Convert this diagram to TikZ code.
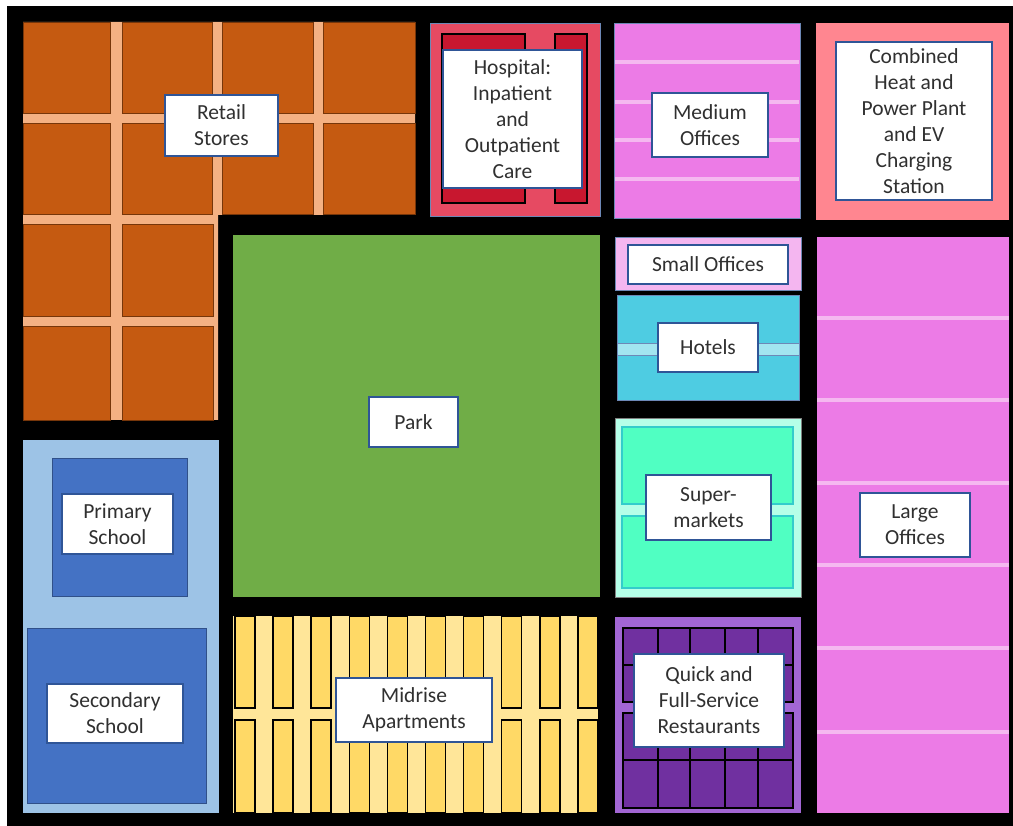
\documentclass[tikz,border=0pt]{standalone}
\usepackage{fontspec}
\setmainfont{Carlito}
\usepackage{tikz}

\definecolor{retail}{HTML}{C55A11}
\definecolor{retailgap}{HTML}{F4B183}
\definecolor{parkgreen}{HTML}{70AD47}
\definecolor{hosp}{HTML}{E64A62}
\definecolor{hospdark}{HTML}{C8172F}
\definecolor{office}{HTML}{EC7BE6}
\definecolor{officegap}{HTML}{F5B8F0}
\definecolor{smalloffice}{HTML}{F4B6F0}
\definecolor{chp}{HTML}{FF8690}
\definecolor{hotel}{HTML}{4ECCE2}
\definecolor{hotelgap}{HTML}{A2E5F0}
\definecolor{mintlight}{HTML}{B5FFE8}
\definecolor{mint}{HTML}{50FFC2}
\definecolor{mintedge}{HTML}{33CCCC}
\definecolor{purplelight}{HTML}{A266D4}
\definecolor{purpledark}{HTML}{7030A0}
\definecolor{schoollight}{HTML}{9DC3E6}
\definecolor{schooldark}{HTML}{4472C4}
\definecolor{aptlight}{HTML}{FFE699}
\definecolor{aptdark}{HTML}{FFD966}
\definecolor{edgeblue}{HTML}{2F5597}
\definecolor{labeltext}{HTML}{303030}

\begin{document}
\begin{tikzpicture}[x=1pt,y=-1pt,
  lbl/.style={draw=edgeblue,line width=2pt,fill=white,inner sep=0pt,align=center,
    text=labeltext,font=\fontsize{21.5}{26}\selectfont},
  block/.style={draw=edgeblue!70,line width=0.8pt},
  tile/.style={fill=retail,draw=retail!60!black,line width=0.8pt},
  cell/.style={draw=black,line width=1.5pt}]
\useasboundingbox (0,0) rectangle (1013,826);
\fill[white] (0,0) rectangle (1013,826);
\fill[black] (7,6) rectangle (1013,826);

\fill[retailgap] (23,22) -- (415,22) -- (415,215) -- (218,215) -- (218,420) -- (23,420) -- cycle;
\foreach \xa/\xb in {23/110,122/212,222/313,323/415}
  \foreach \ya/\yb in {22/113,123/214}
    \draw[tile] (\xa,\ya) rectangle (\xb,\yb);
\foreach \xa/\xb in {23/110,122/213}
  \foreach \ya/\yb in {224/316,326/420}
    \draw[tile] (\xa,\ya) rectangle (\xb,\yb);

\fill[parkgreen] (233,235) rectangle (600,597);

\draw[block,fill=hosp] (430,23) rectangle (600,216);
\draw[cell,fill=hospdark] (442,34) rectangle (525,203);
\draw[cell,fill=hospdark] (555,34) rectangle (587,203);

\draw[block,fill=office] (614,23) rectangle (800,218);
\foreach \y in {62,102,140,179}
  \draw[officegap,line width=4pt] (615,\y) -- (799,\y);

\fill[chp] (816,23) rectangle (1009,220);

\draw[block,fill=smalloffice] (615,237) rectangle (801,290);
\draw[block,fill=hotel] (617,295) rectangle (799,400);
\draw[block,fill=hotelgap] (617,343) rectangle (799,355);

\fill[office] (817,237) rectangle (1009,813);
\foreach \y in {318,400,483,565,648,732}
  \draw[officegap,line width=4pt] (817,\y) -- (1009,\y);

\draw[draw=gray,line width=0.8pt,fill=mintlight] (615,418) rectangle (801,597);
\draw[mintedge,line width=1.5pt,fill=mint] (622,427) rectangle (793,504);
\draw[mintedge,line width=1.5pt,fill=mint] (622,516) rectangle (793,588);

\fill[purplelight] (615,617) rectangle (801,813);
\foreach \xa/\xb in {623/658,658/690,690/725,725/758,758/793}
  \foreach \ya/\yb in {628/665,665/702,713/760,760/808}
    \draw[cell,fill=purpledark] (\xa,\ya) rectangle (\xb,\yb);

\fill[schoollight] (23,440) rectangle (219,813);
\draw[draw=schooldark!70!black,line width=0.8pt,fill=schooldark] (52,458) rectangle (187,596);
\draw[draw=schooldark!70!black,line width=0.8pt,fill=schooldark] (27,628) rectangle (206,803);

\fill[aptlight] (233,616) rectangle (598,813);
\foreach \k in {0,...,9} {
  \draw[cell,fill=aptdark] (235+38.1*\k,616) rectangle (255+38.1*\k,708);
  \draw[cell,fill=aptdark] (235+38.1*\k,720) rectangle (255+38.1*\k,813);
}

\node[lbl,minimum width=113,minimum height=61] (retail) at (221.5,125.5) {Retail\\Stores};
\node[lbl,minimum width=139,minimum height=138] (hospital) at (512.5,119) {Hospital:\\Inpatient\\and\\Outpatient\\Care};
\node[lbl,minimum width=116,minimum height=64] (medoff) at (710,125) {Medium\\Offices};
\node[lbl,minimum width=156,minimum height=158] (chp) at (914,121) {Combined\\Heat and\\Power Plant\\and EV\\Charging\\Station};
\node[lbl,minimum width=89,minimum height=50] (park) at (413.5,422) {Park};
\node[lbl,minimum width=160,minimum height=39] (smalloff) at (708,264.5) {Small Offices};
\node[lbl,minimum width=100,minimum height=49] (hotels) at (708,347.5) {Hotels};
\node[lbl,minimum width=125,minimum height=65] (market) at (708.5,507.5) {Super-\\markets};
\node[lbl,minimum width=110,minimum height=64] (largeoff) at (915,525) {Large\\Offices};
\node[lbl,minimum width=111,minimum height=60] (primary) at (117.5,524) {Primary\\School};
\node[lbl,minimum width=136,minimum height=59] (secondary) at (115,713.5) {Secondary\\School};
\node[lbl,minimum width=156,minimum height=64] (midrise) at (414,710) {Midrise\\Apartments};
\node[lbl,minimum width=150,minimum height=93] (restaurant) at (709,700.5) {Quick and\\Full-Service\\Restaurants};
\end{tikzpicture}
\end{document}
